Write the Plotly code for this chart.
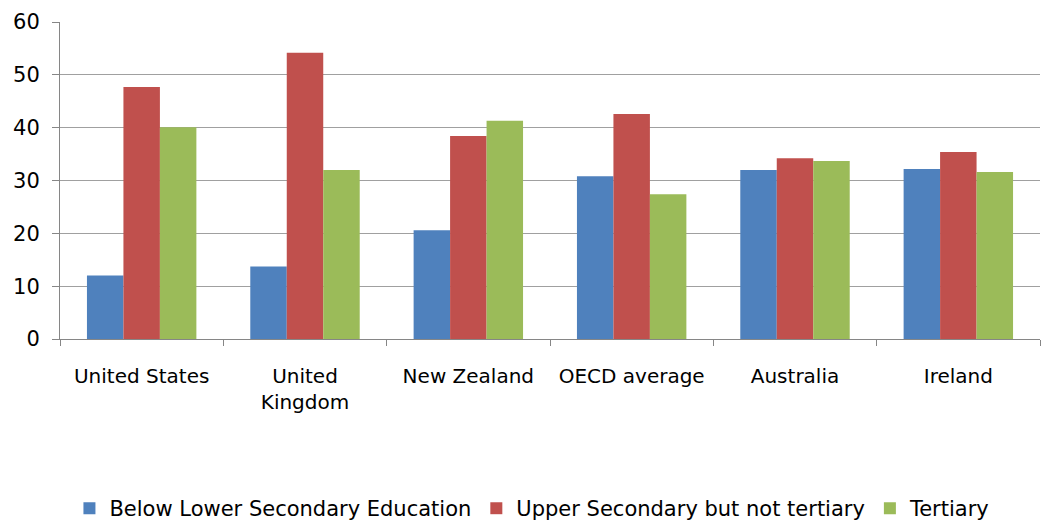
import plotly.graph_objects as go

categories = ["United States", "United<br>Kingdom", "New Zealand", "OECD average", "Australia", "Ireland"]
below_lower_secondary = [12.0, 13.7, 20.6, 30.8, 32.0, 32.2]
upper_secondary = [47.7, 54.2, 38.4, 42.6, 34.2, 35.4]
tertiary = [40.1, 32.0, 41.3, 27.4, 33.7, 31.6]

series = [
    ("Below Lower Secondary Education", below_lower_secondary, "#4F81BD"),
    ("Upper Secondary but not tertiary", upper_secondary, "#C0504D"),
    ("Tertiary", tertiary, "#9BBB59"),
]

fig = go.Figure()
for name, values, color in series:
    fig.add_trace(go.Bar(x=categories, y=values, name=name,
                         marker=dict(color=color, line=dict(width=0))))

font_family = "DejaVu Sans, Verdana, sans-serif"

fig.update_layout(
    width=1044, height=527,
    margin=dict(l=60, r=4, t=22, b=188, autoexpand=False),
    paper_bgcolor="white", plot_bgcolor="white",
    barmode="group", bargap=0.33, bargroupgap=0,
    font=dict(family=font_family, size=20, color="#000000"),
    showlegend=True,
    legend=dict(orientation="h", xref="container", x=0.51, xanchor="center",
                yref="container", y=0.035, yanchor="middle",
                font=dict(size=21), itemwidth=30, tracegroupgap=0),
    xaxis=dict(
        showline=True, linecolor="#868686", linewidth=1,
        ticks="outside", tickson="boundaries", ticklen=6, tickcolor="#868686",
        tickfont=dict(size=20), showgrid=False, automargin=False,
        ticklabelstandoff=19,
    ),
    yaxis=dict(
        range=[0, 60], dtick=10,
        showline=True, linecolor="#868686", linewidth=1,
        ticks="outside", ticklen=7, tickcolor="#868686",
        showgrid=True, gridcolor="#A0A0A0", gridwidth=1,
        tickfont=dict(size=21), zeroline=False, automargin=False,
        ticklabelstandoff=8,
    ),
)

fig.write_html("out.html")
